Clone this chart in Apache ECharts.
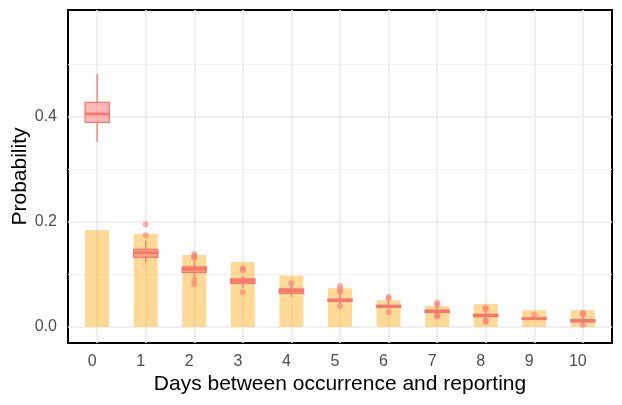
<!DOCTYPE html>
<html>
<head>
<meta charset="utf-8">
<script src="https://cdn.jsdelivr.net/npm/echarts@6/dist/echarts.min.js"></script>
<style>html,body{margin:0;padding:0;background:#fff}#c{width:622px;height:405px}</style>
</head>
<body>
<div id="c"></div>
<script>
// ---- data ----
var categories = [0, 1, 2, 3, 4, 5, 6, 7, 8, 9, 10];
var barValues  = [0.185, 0.177, 0.137, 0.124, 0.098, 0.074, 0.051, 0.040, 0.044, 0.032, 0.032];
var boxMin     = [0.353, 0.1225, 0.094, 0.075, 0.0578, 0.044, 0.033, 0.025, 0.016, 0.013, 0.006];
var boxQ1      = [0.390, 0.1328, 0.1042, 0.0832, 0.0642, 0.049, 0.038, 0.028, 0.020, 0.015, 0.010];
var boxMedian  = [0.406, 0.1415, 0.1100, 0.0876, 0.0691, 0.051, 0.0394, 0.030, 0.0223, 0.0158, 0.012];
var boxQ3      = [0.428, 0.1480, 0.1143, 0.0914, 0.0724, 0.053, 0.041, 0.032, 0.024, 0.017, 0.014];
var boxMax     = [0.482, 0.1644, 0.125, 0.097, 0.0787, 0.064, 0.049, 0.038, 0.030, 0.020, 0.020];
var outliers   = [[], [0.1956, 0.1746], [0.139, 0.135, 0.131, 0.089, 0.081], [0.112, 0.108, 0.066],
                  [0.0832], [0.078, 0.0724, 0.0667, 0.040], [0.057, 0.054, 0.028], [0.046, 0.042, 0.022, 0.020],
                  [0.037, 0.034, 0.012, 0.010], [0.024], [0.027, 0.024, 0.004]];
var yTickValues = [0, 0.2, 0.4];
var yMinorValues = [0.1, 0.3, 0.5];
var xTitle = 'Days between occurrence and reporting';
var yTitle = 'Probability';

// ---- build ----
var barData = categories.map(function (c, i) { return [c, barValues[i]]; });
var boxData = categories.map(function (c, i) { return [c, boxMin[i], boxQ1[i], boxMedian[i], boxQ3[i], boxMax[i]]; });
var outData = [];
categories.forEach(function (c, i) { outliers[i].forEach(function (v) { outData.push([c, v]); }); });

var gridLines = [];
yTickValues.forEach(function (v) { gridLines.push({ yAxis: v, lineStyle: { color: '#EBEBEB', width: 1.6, type: 'solid' } }); });
yMinorValues.forEach(function (v) { gridLines.push({ yAxis: v, lineStyle: { color: '#EFEFEF', width: 0.9, type: 'solid' } }); });
categories.forEach(function (c) { gridLines.push({ xAxis: c, lineStyle: { color: '#EBEBEB', width: 1.6, type: 'solid' } }); });

var RED = '#F8766D';
var FONT = '"Liberation Sans", Arial, sans-serif';

var chart = echarts.init(document.getElementById('c'), null, { renderer: 'canvas' });
chart.setOption({
  animation: false,
  backgroundColor: '#fff',
  grid: { left: 68, right: 10, top: 10, bottom: 62, show: true, borderColor: '#000', borderWidth: 2,
    backgroundColor: 'transparent', containLabel: false, outerBoundsMode: 'none' },
  xAxis: {
    type: 'value', min: -0.6, max: 10.6,
    axisLine: { show: false }, axisTick: { show: false }, splitLine: { show: false },
    axisLabel: { customValues: categories, color: '#4D4D4D', fontSize: 16, fontFamily: FONT, margin: 11,
      padding: [0, 10, 0, 0],
      formatter: function (v) { return String(v); } },
    name: xTitle, nameLocation: 'middle', nameGap: 31, nameMoveOverlap: false,
    nameTextStyle: { color: '#000', fontSize: 21, fontFamily: FONT }
  },
  yAxis: {
    type: 'value', min: -0.0305, max: 0.604,
    axisLine: { show: false }, axisTick: { show: false }, splitLine: { show: false },
    axisLabel: { customValues: yTickValues, color: '#4D4D4D', fontSize: 16, fontFamily: FONT, margin: 11,
      formatter: function (v) { return v.toFixed(1); } },
    name: yTitle, nameLocation: 'middle', nameGap: 37, nameMoveOverlap: false,
    nameTextStyle: { color: '#000', fontSize: 21, fontFamily: FONT }
  },
  series: [
    {
      type: 'bar', data: barData, barWidth: 24, z: 2,
      itemStyle: { color: 'rgba(255,182,48,0.5)' },
      markLine: { silent: true, symbol: 'none', z: 1, label: { show: false }, data: gridLines, animation: false }
    },
    {
      type: 'custom', data: boxData, z: 3,
      renderItem: function (params, api) {
        var x = api.value(0);
        var pMin = api.coord([x, api.value(1)]);
        var pQ1 = api.coord([x, api.value(2)]);
        var pMed = api.coord([x, api.value(3)]);
        var pQ3 = api.coord([x, api.value(4)]);
        var pMax = api.coord([x, api.value(5)]);
        var w = api.size([0.5, 0])[0];
        return {
          type: 'group',
          children: [
            { type: 'line', shape: { x1: pMin[0], y1: pMin[1], x2: pQ1[0], y2: pQ1[1] }, style: { stroke: RED, lineWidth: 1.3 } },
            { type: 'line', shape: { x1: pQ3[0], y1: pQ3[1], x2: pMax[0], y2: pMax[1] }, style: { stroke: RED, lineWidth: 1.3 } },
            { type: 'rect', shape: { x: pQ3[0] - w / 2, y: pQ3[1], width: w, height: pQ1[1] - pQ3[1] },
              style: { fill: 'rgba(248,118,109,0.5)', stroke: RED, lineWidth: 1.3 } },
            { type: 'line', shape: { x1: pMed[0] - w / 2, y1: pMed[1], x2: pMed[0] + w / 2, y2: pMed[1] },
              style: { stroke: RED, lineWidth: 2.8 } }
          ]
        };
      }
    },
    {
      type: 'scatter', data: outData, z: 4, symbol: 'circle', symbolSize: 6,
      itemStyle: { color: 'rgba(248,118,109,0.7)' }
    }
  ]
});
</script>
</body>
</html>
